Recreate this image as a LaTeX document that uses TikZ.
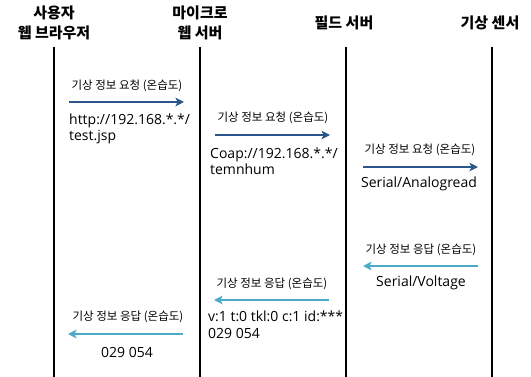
\documentclass[tikz,border=0pt]{standalone}
\usepackage{fontspec}
\setmainfont{Noto Sans CJK KR}
\newfontfamily\latinfont{Open Sans}
\usetikzlibrary{arrows.meta}
\definecolor{reqblue}{HTML}{2A5689}
\definecolor{repteal}{HTML}{4BABC8}
\begin{document}
\begin{tikzpicture}[x=1pt,y=-1pt,
  header/.style={font=\fontsize{15}{19.5}\selectfont\bfseries, align=center, inner sep=0pt},
  lifeline/.style={line width=2pt, black},
  msglabel/.style={font=\fontsize{11.5}{13}\selectfont, inner sep=0pt},
  msgtext/.style={font=\latinfont\fontsize{14}{16}\selectfont, inner sep=0pt},
  req/.style={line width=2pt, reqblue, -{Stealth[length=8.5pt,width=8.5pt,inset=2pt]}},
  rep/.style={line width=2pt, repteal, -{Stealth[length=8.5pt,width=8.5pt,inset=2pt]}}]
\useasboundingbox (0,0) rectangle (531,377);
\fill[white] (0,0) rectangle (531,377);
% headers
\node[header] (h1) at (54,23) {사용자\\웹 브라우저};
\node[header] (h2) at (200,23) {마이크로\\웹 서버};
\node[header] (h3) at (344,23) {필드 서버};
\node[header] (h4) at (490,23) {기상 센서};
% lifelines
\coordinate (l1t) at (54,47); \coordinate (l1b) at (54,377);
\coordinate (l2t) at (200,47); \coordinate (l2b) at (200,377);
\coordinate (l3t) at (346,47); \coordinate (l3b) at (346,377);
\coordinate (l4t) at (492,47); \coordinate (l4b) at (492,377);
\draw[lifeline] (l1t) -- (l1b);
\draw[lifeline] (l2t) -- (l2b);
\draw[lifeline] (l3t) -- (l3b);
\draw[lifeline] (l4t) -- (l4b);
% message 1
\node[msglabel] (m1l) at (127,86) {기상 정보 요청 (온습도)};
\coordinate (a1s) at (69,102); \coordinate (a1e) at (184,102);
\draw[req] (a1s) -- (a1e);
\node[msgtext, anchor=base west] (m1t) at (69,125) {http://192.168.*.*/};
\node[msgtext, anchor=base west] (m1u) at (69,141) {test.jsp};
% message 2
\node[msglabel] (m2l) at (273,118) {기상 정보 요청 (온습도)};
\coordinate (a2s) at (215,135); \coordinate (a2e) at (330,135);
\draw[req] (a2s) -- (a2e);
\node[msgtext, anchor=base west] (m2t) at (210,159) {Coap://192.168.*.*/};
\node[msgtext, anchor=base west] (m2u) at (210,175) {temnhum};
% message 3
\node[msglabel] (m3l) at (420,150) {기상 정보 요청 (온습도)};
\coordinate (a3s) at (363,167); \coordinate (a3e) at (478,167);
\draw[req] (a3s) -- (a3e);
\node[msgtext, anchor=base] (m3t) at (419,188) {Serial/Analogread};
% message 4
\node[msglabel] (m4l) at (421,250) {기상 정보 응답 (온습도)};
\coordinate (a4s) at (478,266); \coordinate (a4e) at (363,266);
\draw[rep] (a4s) -- (a4e);
\node[msgtext, anchor=base] (m4t) at (421,287) {Serial/Voltage};
% message 5
\node[msglabel] (m5l) at (272,284) {기상 정보 응답 (온습도)};
\coordinate (a5s) at (329,300); \coordinate (a5e) at (214,300);
\draw[rep] (a5s) -- (a5e);
\node[msgtext, anchor=base west] (m5t) at (208,322) {v:1 t:0 tkl:0 c:1 id:***};
\node[msgtext, anchor=base west] (m5u) at (208,338) {029 054};
% message 6
\node[msglabel] (m6l) at (128,317) {기상 정보 응답 (온습도)};
\coordinate (a6s) at (183,334); \coordinate (a6e) at (68,334);
\draw[rep] (a6s) -- (a6e);
\node[msgtext, anchor=base] (m6t) at (127,358) {029 054};
\end{tikzpicture}
\end{document}
